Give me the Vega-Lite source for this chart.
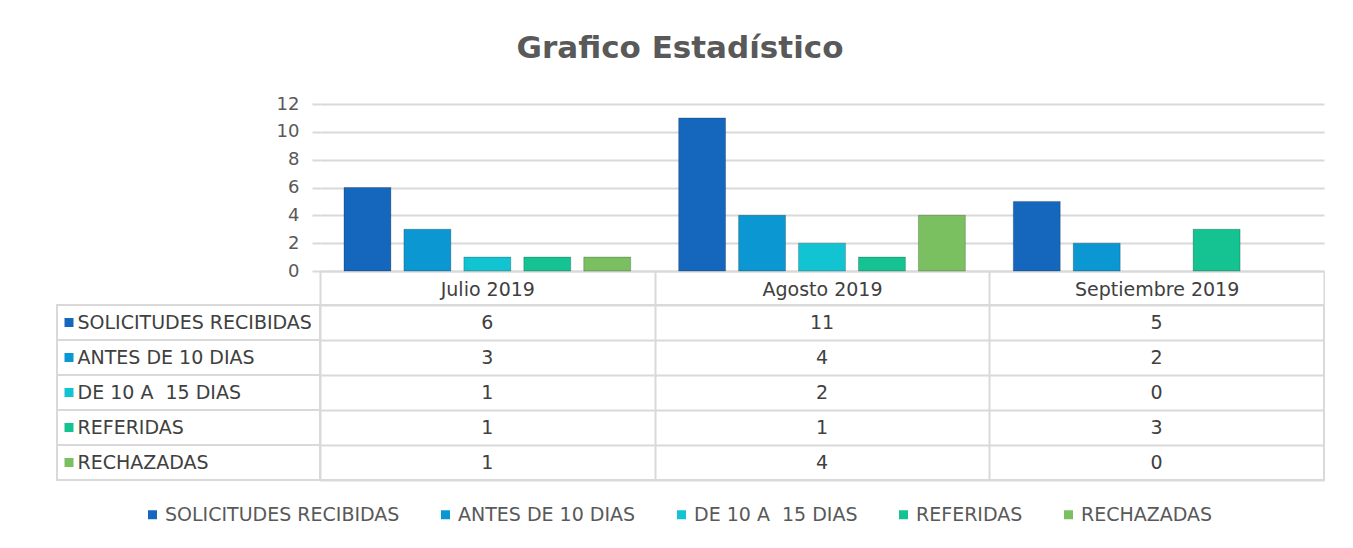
{
  "$schema": "https://vega.github.io/schema/vega-lite/v6.json",
  "autosize": {"type": "pad"},
  "padding": {"left": 55, "top": 33, "right": 0, "bottom": 0},
  "background": "white",
  "title": {
    "text": "Grafico Estadístico",
    "font": "DejaVu Sans",
    "fontSize": 31,
    "fontWeight": "bold",
    "color": "#595959",
    "anchor": "middle",
    "dx": -10,
    "offset": 30
  },
  "datasets": {
    "d": [
      {"mes": "Julio 2019", "serie": "SOLICITUDES RECIBIDAS", "valor": 6},
      {"mes": "Julio 2019", "serie": "ANTES DE 10 DIAS", "valor": 3},
      {"mes": "Julio 2019", "serie": "\u00a0DE 10 A\u00a0 15 DIAS", "valor": 1},
      {"mes": "Julio 2019", "serie": "REFERIDAS", "valor": 1},
      {"mes": "Julio 2019", "serie": "RECHAZADAS", "valor": 1},
      {"mes": "Agosto 2019", "serie": "SOLICITUDES RECIBIDAS", "valor": 11},
      {"mes": "Agosto 2019", "serie": "ANTES DE 10 DIAS", "valor": 4},
      {"mes": "Agosto 2019", "serie": "\u00a0DE 10 A\u00a0 15 DIAS", "valor": 2},
      {"mes": "Agosto 2019", "serie": "REFERIDAS", "valor": 1},
      {"mes": "Agosto 2019", "serie": "RECHAZADAS", "valor": 4},
      {"mes": "Septiembre 2019", "serie": "SOLICITUDES RECIBIDAS", "valor": 5},
      {"mes": "Septiembre 2019", "serie": "ANTES DE 10 DIAS", "valor": 2},
      {"mes": "Septiembre 2019", "serie": "\u00a0DE 10 A\u00a0 15 DIAS", "valor": 0},
      {"mes": "Septiembre 2019", "serie": "REFERIDAS", "valor": 3},
      {"mes": "Septiembre 2019", "serie": "RECHAZADAS", "valor": 0}
    ]
  },
  "columns": 2,
  "spacing": {"row": 34, "column": 0},
  "bounds": "flush",
  "concat": [
    {
      "width": 263,
      "height": 167,
      "view": {"stroke": null},
      "data": {"values": []},
      "mark": "point",
      "encoding": {}
    },
    {
      "width": 1004,
      "height": 167,
      "view": {"stroke": null},
      "data": {"name": "d"},
      "transform": [{"filter": "datum.valor > 0"}],
      "mark": {"type": "bar", "stroke": "#000000", "strokeOpacity": 0.22, "strokeWidth": 1},
      "encoding": {
        "x": {
          "field": "mes",
          "type": "nominal",
          "sort": ["Julio 2019", "Agosto 2019", "Septiembre 2019"],
          "scale": {"paddingInner": 0, "paddingOuter": 0},
          "axis": {
            "title": null,
            "orient": "bottom",
            "tickBand": "extent",
            "tickSize": 34,
            "tickWidth": 2,
            "tickColor": "#d9d9d9",
            "domainColor": "#d9d9d9",
            "domainWidth": 2,
            "labelAngle": 0,
            "labelPadding": -16,
            "labelBaseline": "middle",
            "labelFont": "DejaVu Sans",
            "labelFontSize": 19,
            "labelColor": "#404040"
          }
        },
        "xOffset": {
          "field": "serie",
          "type": "nominal",
          "sort": ["SOLICITUDES RECIBIDAS", "ANTES DE 10 DIAS", "\u00a0DE 10 A\u00a0 15 DIAS", "REFERIDAS", "RECHAZADAS"],
          "scale": {
            "domain": ["SOLICITUDES RECIBIDAS", "ANTES DE 10 DIAS", "\u00a0DE 10 A\u00a0 15 DIAS", "REFERIDAS", "RECHAZADAS"],
            "paddingInner": 0.217,
            "paddingOuter": 0.4
          }
        },
        "y": {
          "field": "valor",
          "type": "quantitative",
          "scale": {"domain": [0, 12], "nice": false},
          "axis": {
            "title": null,
            "values": [0, 2, 4, 6, 8, 10, 12],
            "grid": true,
            "gridColor": "#d9d9d9",
            "gridWidth": 2,
            "domain": false,
            "tickSize": 8,
            "tickWidth": 2,
            "tickColor": "#d9d9d9",
            "labelPadding": 13,
            "labelFont": "DejaVu Sans",
            "labelFontSize": 18,
            "labelColor": "#595959"
          }
        },
        "color": {
          "field": "serie",
          "type": "nominal",
          "scale": {
            "domain": ["SOLICITUDES RECIBIDAS", "ANTES DE 10 DIAS", "\u00a0DE 10 A\u00a0 15 DIAS", "REFERIDAS", "RECHAZADAS"],
            "range": ["#1467bd", "#0b97d2", "#12c4d2", "#14c391", "#7ac061"]
          },
          "legend": {
            "title": null,
            "orient": "none",
            "direction": "horizontal",
            "legendX": 86,
            "legendY": 401,
            "symbolType": "square",
            "symbolSize": 81,
            "symbolStrokeWidth": 0,
            "labelFont": "DejaVu Sans",
            "labelFontSize": 19,
            "labelColor": "#595959",
            "labelOffset": 3,
            "labelLimit": 0,
            "columnPadding": 36
          }
        }
      }
    },
    {
      "width": 263,
      "height": 175,
      "view": {"stroke": "#d9d9d9", "strokeWidth": 2},
      "data": {"name": "d"},
      "transform": [{"filter": "datum.mes === 'Julio 2019'"}],
      "mark": {"type": "rule", "color": "#d9d9d9", "strokeWidth": 2},
      "encoding": {
        "y": {
          "field": "serie",
          "type": "nominal",
          "sort": ["SOLICITUDES RECIBIDAS", "ANTES DE 10 DIAS", "\u00a0DE 10 A\u00a0 15 DIAS", "REFERIDAS", "RECHAZADAS"],
          "bandPosition": 0,
          "scale": {"paddingInner": 0, "paddingOuter": 0},
          "axis": {
            "title": null,
            "orient": "left",
            "offset": -7,
            "domain": false,
            "grid": false,
            "ticks": true,
            "tickBand": "center",
            "tickSize": -9,
            "tickWidth": 9,
            "tickColor": {
              "condition": [
                {"test": "datum.value === 'SOLICITUDES RECIBIDAS'", "value": "#1467bd"},
                {"test": "datum.value === 'ANTES DE 10 DIAS'", "value": "#0b97d2"},
                {"test": "datum.value === 'REFERIDAS'", "value": "#14c391"},
                {"test": "datum.value === 'RECHAZADAS'", "value": "#7ac061"}
              ],
              "value": "#12c4d2"
            },
            "labelAlign": "left",
            "labelBaseline": "middle",
            "labelPadding": -4,
            "labelFont": "DejaVu Sans",
            "labelFontSize": 19,
            "labelColor": "#404040",
            "labelLimit": 0
          }
        }
      }
    },
    {
      "width": 1004,
      "height": 175,
      "view": {"stroke": "#d9d9d9", "strokeWidth": 2},
      "data": {"name": "d"},
      "mark": {"type": "text", "font": "DejaVu Sans", "fontSize": 19, "color": "#404040"},
      "encoding": {
        "x": {
          "field": "mes",
          "type": "nominal",
          "sort": ["Julio 2019", "Agosto 2019", "Septiembre 2019"],
          "scale": {"paddingInner": 0, "paddingOuter": 0},
          "axis": {
            "title": null,
            "grid": true,
            "tickBand": "extent",
            "gridColor": "#d9d9d9",
            "gridWidth": 2,
            "labels": false,
            "ticks": false,
            "domain": false
          }
        },
        "y": {
          "field": "serie",
          "type": "nominal",
          "sort": ["SOLICITUDES RECIBIDAS", "ANTES DE 10 DIAS", "\u00a0DE 10 A\u00a0 15 DIAS", "REFERIDAS", "RECHAZADAS"],
          "scale": {"paddingInner": 0, "paddingOuter": 0},
          "axis": {
            "title": null,
            "grid": true,
            "tickBand": "extent",
            "gridColor": "#d9d9d9",
            "gridWidth": 2,
            "labels": false,
            "ticks": false,
            "domain": false
          }
        },
        "text": {"field": "valor", "type": "quantitative"}
      }
    }
  ],
  "config": {
    "font": "DejaVu Sans"
  }
}
